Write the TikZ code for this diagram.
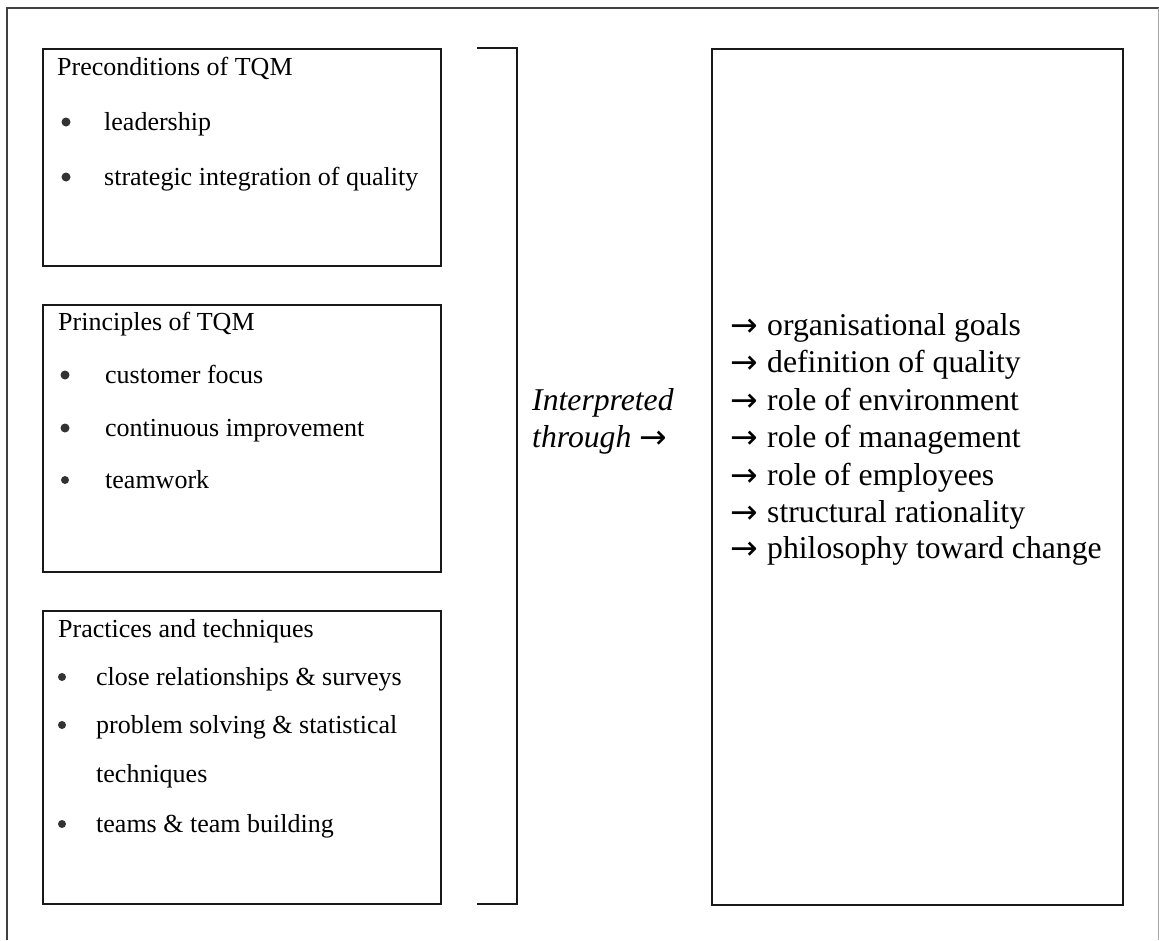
\documentclass[tikz,border=0pt]{standalone}
\usepackage{fontspec}
\setmainfont{Liberation Serif}
\newfontfamily\arrowfont{DejaVu Sans}
\newcommand\tqmarrow{\raisebox{-1.5pt}{\arrowfont\fontsize{33}{33}\selectfont →}}
\begin{document}
\begin{tikzpicture}[x=1pt,y=-1pt,
  boxst/.style={draw=black!90, line width=2pt, inner sep=0pt, anchor=north west},
  lefttxt/.style={anchor=base west, inner sep=0pt, font=\fontsize{26}{31}\selectfont},
  righttxt/.style={anchor=base west, inner sep=0pt, font=\fontsize{31.7}{38}\selectfont},
  dot/.style={circle, fill=black!80, inner sep=0pt, minimum size=9pt},
  framest/.style={draw=black!75, line width=1.5pt},
  bracketst/.style={draw=black!90, line width=2pt}]
\useasboundingbox (0,0) rectangle (1159,940);

% outer frame
\coordinate (fbl) at (7,940);
\coordinate (ftl) at (7,8);
\coordinate (ftr) at (1159,8);
\coordinate (frt) at (1158,8);
\coordinate (frb) at (1158,940);
\draw[framest] (fbl) -- (ftl) -- (ftr);
\draw[draw=black!35, line width=1pt] (frt) -- (frb);

% left boxes
\node[boxst, minimum width=398pt, minimum height=217pt] (pre) at (42,48) {};
\node[boxst, minimum width=398pt, minimum height=267pt] (pri) at (42,304) {};
\node[boxst, minimum width=398pt, minimum height=293pt] (pra) at (42,610) {};

% box 1 text
\node[lefttxt] (preT) at (57,75) {Preconditions of TQM};
\node[dot] (preD1) at (66,122) {};
\node[lefttxt] (preA) at (104,130) {leadership};
\node[dot] (preD2) at (66,177) {};
\node[lefttxt] (preB) at (104,185) {strategic integration of quality};

% box 2 text
\node[lefttxt] (priT) at (58,330) {Principles of TQM};
\node[dot] (priD1) at (65,375) {};
\node[lefttxt] (priA) at (105,383) {customer focus};
\node[dot] (priD2) at (65,428) {};
\node[lefttxt] (priB) at (105,436) {continuous improvement};
\node[dot, minimum size=8pt] (priD3) at (65,480) {};
\node[lefttxt] (priC) at (105,488) {teamwork};

% box 3 text
\node[lefttxt] (praT) at (58,637) {Practices and techniques};
\node[dot, minimum size=8pt] (praD1) at (62,677) {};
\node[lefttxt] (praA) at (96,685) {close relationships \& surveys};
\node[dot, minimum size=8pt] (praD2) at (62,725) {};
\node[lefttxt] (praB) at (96,733) {problem solving \& statistical};
\node[lefttxt] (praB2) at (96,782) {techniques};
\node[dot, minimum size=8pt] (praD3) at (62,824) {};
\node[lefttxt] (praC) at (96,832) {teams \& team building};

% bracket
\coordinate (brA) at (477,48);
\coordinate (brB) at (517,48);
\coordinate (brC) at (517,904);
\coordinate (brD) at (477,904);
\draw[bracketst] (brA) -- (brB) -- (brC) -- (brD);

% middle label
\node[righttxt, font=\fontsize{31.7}{38}\selectfont\itshape] (mid1) at (532,410) {Interpreted};
\node[righttxt, font=\fontsize{31.7}{38}\selectfont\itshape] (mid2) at (532,447) {through \makebox[28pt][l]{\upshape\tqmarrow}};

% right box
\node[boxst, minimum width=411pt, minimum height=856pt] (res) at (711,48) {};
\node[righttxt] (r1) at (730,335) {\makebox[37pt][l]{\tqmarrow}organisational goals};
\node[righttxt] (r2) at (730,372) {\makebox[37pt][l]{\tqmarrow}definition of quality};
\node[righttxt] (r3) at (730,410) {\makebox[37pt][l]{\tqmarrow}role of environment};
\node[righttxt] (r4) at (730,447) {\makebox[37pt][l]{\tqmarrow}role of management};
\node[righttxt] (r5) at (730,485) {\makebox[37pt][l]{\tqmarrow}role of employees};
\node[righttxt] (r6) at (730,522) {\makebox[37pt][l]{\tqmarrow}structural rationality};
\node[righttxt] (r7) at (730,558) {\makebox[37pt][l]{\tqmarrow}philosophy toward change};
\end{tikzpicture}
\end{document}
